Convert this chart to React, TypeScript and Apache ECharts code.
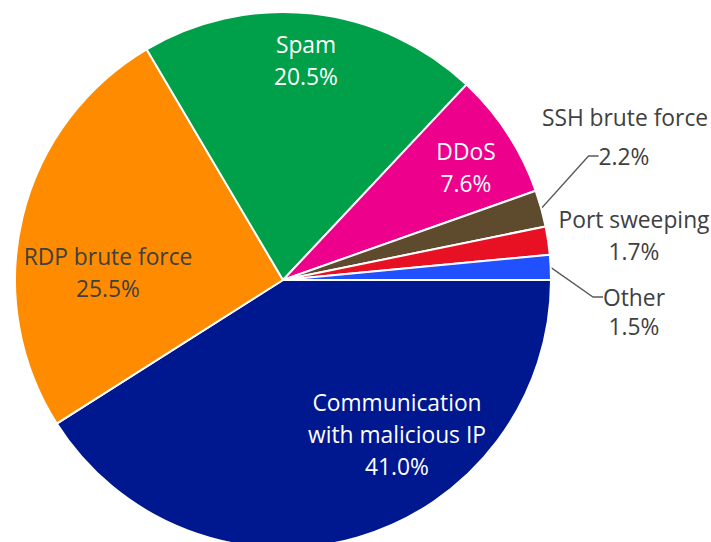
import React, { useEffect, useRef } from 'react';
import * as echarts from 'echarts';

// ---- data ----
const categories = [
  'Communication with malicious IP',
  'RDP brute force',
  'Spam',
  'DDoS',
  'SSH brute force',
  'Port sweeping',
  'Other',
];
const labelNames = [
  'Communication\nwith malicious IP',
  'RDP brute force',
  'Spam',
  'DDoS',
  'SSH brute force',
  'Port sweeping',
  'Other',
];
const shares = [41.0, 25.5, 20.5, 7.6, 2.2, 1.7, 1.5];

// ---- styles / layout ----
const colors = ['#00188F', '#FF8C00', '#00A04A', '#EC008C', '#5E4A2C', '#E81123', '#2150FF'];
const textColors = ['#FFFFFF', '#404040', '#FFFFFF', '#FFFFFF', '#404040', '#404040', '#404040'];
// 'both' = name + pct in one label; 'split-pct' = pct carries the leader line, name separate;
// 'split-name' = name carries the leader line, pct separate
const labelMode = ['both', 'both', 'both', 'both', 'split-pct', 'both', 'split-name'];
const primaryPos: [number, number][] = [
  [397, 434],
  [108, 272],
  [306, 60],
  [466, 167],
  [624, 156],
  [634, 235],
  [634, 297],
];
const secondaryPos: ([number, number] | null)[] = [null, null, null, null, [625, 117], null, [634, 326]];

const FONT = '"Open Sans", "Noto Sans", sans-serif';
const FONT_SIZE = 22.8;
const LINE_H = 32;

const pct = (v: number) => v.toFixed(1) + '%';

export default function App() {
  const ref = useRef<HTMLDivElement>(null);
  useEffect(() => {
    document.body.style.margin = '0';
    if (!ref.current) return;
    const chart = echarts.init(ref.current, undefined, { renderer: 'svg' });

    const dataA = categories.map((c, i) => ({
      name: c,
      value: shares[i],
      itemStyle: { color: colors[i] },
      label: {
        position: labelMode[i] === 'both' && i !== 5 ? 'inside' : 'outside',
        color: textColors[i],
      },
      labelLine: { show: labelMode[i] !== 'both' },
    }));

    const dataB = categories.map((c, i) => ({
      name: c,
      value: shares[i],
      label: { show: labelMode[i] !== 'both', position: 'outside', color: textColors[i] },
      labelLine: { show: false },
    }));

    const common = {
      type: 'pie',
      center: [283, 280],
      radius: 268,
      startAngle: 0,
      clockwise: true,
      avoidLabelOverlap: false,
      minShowLabelAngle: 0,
    };

    chart.setOption({
      animation: false,
      backgroundColor: '#FFFFFF',
      textStyle: { fontFamily: FONT },
      series: [
        {
          ...common,
          name: 'main',
          itemStyle: { borderColor: '#FFFFFF', borderWidth: 2 },
          emphasis: { disabled: true },
          label: {
            show: true,
            fontFamily: FONT,
            fontSize: FONT_SIZE,
            lineHeight: LINE_H,
            align: 'center',
            formatter: (p: any) => {
              const i = p.dataIndex;
              if (labelMode[i] === 'split-pct') return pct(shares[i]);
              if (labelMode[i] === 'split-name') return labelNames[i];
              return labelNames[i] + '\n' + pct(shares[i]);
            },
          },
          labelLine: {
            length: 10,
            length2: 10,
            smooth: false,
            lineStyle: { color: '#595959', width: 1.3 },
          },
          labelLayout: (p: any) => {
            const pos = primaryPos[p.dataIndex];
            return { x: pos[0], y: pos[1], align: 'center', verticalAlign: 'middle' };
          },
          data: dataA,
        },
        {
          ...common,
          name: 'secondary',
          silent: true,
          itemStyle: { color: 'rgba(0,0,0,0)', borderWidth: 0 },
          emphasis: { disabled: true },
          label: {
            fontFamily: FONT,
            fontSize: FONT_SIZE,
            lineHeight: LINE_H,
            align: 'center',
            formatter: (p: any) => {
              const i = p.dataIndex;
              if (labelMode[i] === 'split-pct') return labelNames[i];
              if (labelMode[i] === 'split-name') return pct(shares[i]);
              return '';
            },
          },
          labelLayout: (p: any) => {
            const pos = secondaryPos[p.dataIndex];
            if (!pos) return {};
            return { x: pos[0], y: pos[1], align: 'center', verticalAlign: 'middle' };
          },
          data: dataB,
        },
      ],
    });
    return () => chart.dispose();
  }, []);
  return <div ref={ref} style={{ width: 711, height: 542 }} />;
}
